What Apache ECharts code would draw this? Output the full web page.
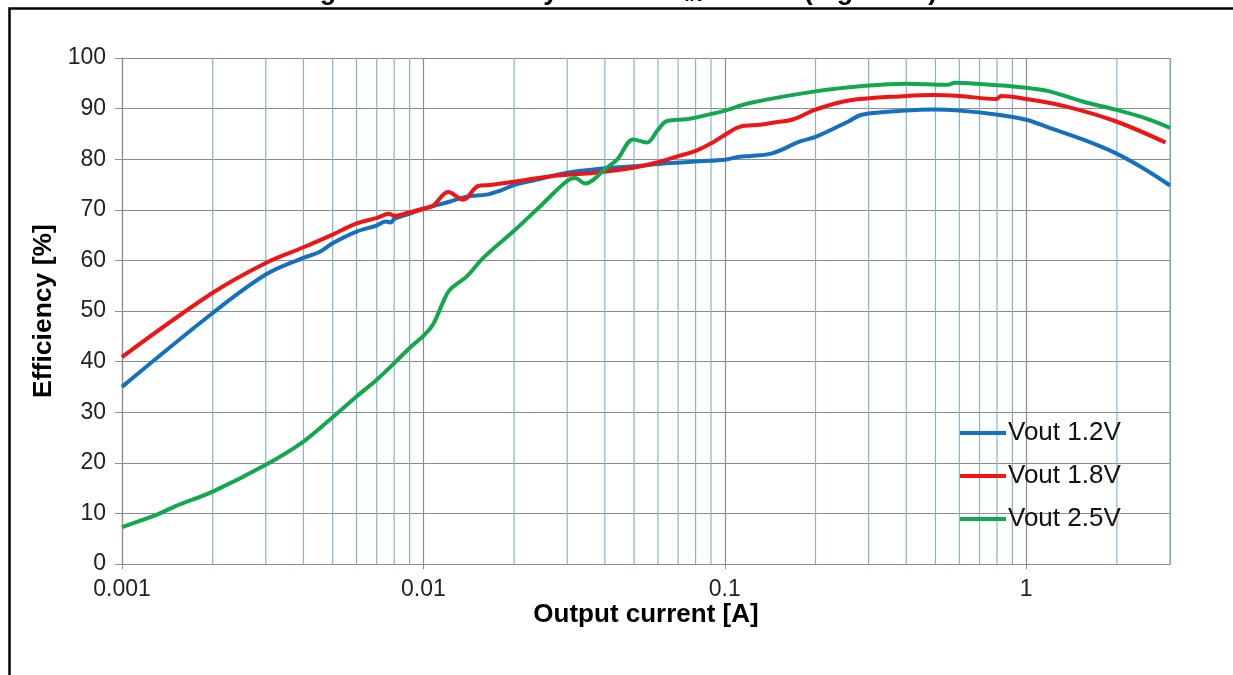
<!DOCTYPE html>
<html>
<head>
<meta charset="utf-8">
<script src="https://cdn.jsdelivr.net/npm/echarts@6/dist/echarts.min.js"></script>
<style>
html,body{margin:0;padding:0;background:#fff;}
#chart{width:1233px;height:675px;}
</style>
</head>
<body>
<div id="chart"></div>
<script>
// ---- data ----
const seriesNames = ['Vout 1.2V', 'Vout 1.8V', 'Vout 2.5V'];
const seriesColors = ['#1570c0', '#f01414', '#12a84e'];

const current12 = [0.001, 0.002, 0.003, 0.004, 0.0045, 0.005, 0.006, 0.007, 0.0075, 0.0078, 0.008, 0.009, 0.01, 0.0122, 0.0139, 0.0162, 0.018, 0.0202, 0.0232, 0.0298, 0.0385, 0.0497, 0.0641, 0.0827, 0.1, 0.112, 0.121, 0.1444, 0.1775, 0.2, 0.258, 0.285, 0.4, 0.49, 0.6, 0.805, 1.0, 1.195, 1.54, 1.98, 2.43, 3.0];
const eff12     = [35.0, 49.6, 57.2, 60.5, 61.6, 63.4, 65.7, 66.9, 67.7, 67.5, 68.2, 69.2, 70.2, 71.6, 72.6, 73.0, 73.8, 75.0, 75.8, 77.3, 78.1, 78.6, 79.2, 79.6, 79.9, 80.5, 80.6, 81.2, 83.5, 84.4, 87.5, 88.8, 89.6, 89.8, 89.6, 88.8, 87.8, 86.2, 83.9, 81.2, 78.3, 74.8];

const current18 = [0.001, 0.002, 0.003, 0.004, 0.005, 0.006, 0.007, 0.0077, 0.008, 0.009, 0.01, 0.01077, 0.01208, 0.01355, 0.0152, 0.0166, 0.0202, 0.0262, 0.0385, 0.0497, 0.06, 0.07, 0.0798, 0.0905, 0.1, 0.112, 0.131, 0.1444, 0.169, 0.2, 0.258, 0.4, 0.49, 0.6, 0.795, 0.827, 1.0, 1.36, 1.98, 2.9];
const eff18     = [40.9, 53.6, 59.5, 62.6, 65.1, 67.3, 68.4, 69.2, 68.8, 69.5, 70.2, 70.8, 73.5, 72.0, 74.7, 74.9, 75.6, 76.6, 77.4, 78.3, 79.4, 80.6, 81.6, 83.2, 84.8, 86.4, 86.8, 87.2, 87.9, 89.8, 91.6, 92.5, 92.7, 92.5, 91.9, 92.5, 91.9, 90.4, 87.5, 83.3];

const current25 = [0.001, 0.0013, 0.0015, 0.002, 0.003, 0.004, 0.005, 0.006, 0.007, 0.008, 0.009, 0.01, 0.01077, 0.01163, 0.01224, 0.0139, 0.0158, 0.0202, 0.025, 0.0298, 0.0318, 0.0344, 0.0405, 0.0439, 0.0497, 0.0551, 0.06, 0.0641, 0.0747, 0.085, 0.1, 0.121, 0.2, 0.294, 0.4, 0.547, 0.58, 0.805, 1.0, 1.195, 1.54, 1.98, 2.43, 3.0];
const eff25     = [7.3, 9.7, 11.4, 14.3, 19.6, 24.2, 29.0, 33.1, 36.4, 39.7, 42.7, 45.1, 47.4, 51.8, 54.2, 56.8, 60.5, 66.1, 71.3, 75.6, 76.3, 75.2, 78.3, 79.9, 83.9, 83.3, 85.8, 87.5, 87.9, 88.6, 89.6, 91.1, 93.4, 94.5, 94.9, 94.7, 95.1, 94.6, 94.1, 93.4, 91.4, 89.8, 88.3, 86.2];

const yTicks = [0, 100, 10];               // min, max, step of the efficiency axis
const xRange = [0.001, 3];                  // output current range (A)
const minorGridCurrents = [0.002, 0.003, 0.004, 0.005, 0.006, 0.007, 0.008, 0.009,
  0.02, 0.03, 0.04, 0.05, 0.06, 0.07, 0.08, 0.09,
  0.2, 0.3, 0.4, 0.5, 0.6, 0.7, 0.8, 0.9, 2, 3];

function pairs(xs, ys) { return xs.map((x, i) => [x, ys[i]]); }

// minor vertical grid lines: one broken line series going from bottom to top at each current
const minorGridData = [];
minorGridCurrents.forEach(v => {
  minorGridData.push([v, yTicks[0]], [v, yTicks[1]], [v, null]);
});

const FONT = '"Liberation Sans", Arial, sans-serif';
const chart = echarts.init(document.getElementById('chart'), null, {renderer: 'canvas'});

const curves = [[current12, eff12], [current18, eff18], [current25, eff25]].map((d, i) => ({
  name: seriesNames[i],
  type: 'line',
  data: pairs(d[0], d[1]),
  showSymbol: false,
  smooth: 0.35,
  z: 5,
  lineStyle: {width: 4, color: seriesColors[i]},
  itemStyle: {color: seriesColors[i]},
  emphasis: {disabled: true}
}));

const option = {
  animation: false,
  backgroundColor: '#ffffff',
  title: {
    text: '{a|Figure 18. Efficiency vs load V}{s|IN}{a| = 3.6 V (log scale)}',
    left: 'center',
    top: -22,
    padding: 0,
    textStyle: {
      rich: {
        a: {fontSize: 27, fontWeight: 'bold', fontFamily: FONT, color: '#000'},
        s: {fontSize: 18, fontWeight: 'bold', fontFamily: FONT, color: '#000', verticalAlign: 'bottom', lineHeight: 20}
      }
    }
  },
  graphic: [{
    type: 'rect',
    left: 7, top: 6,
    shape: {width: 1240, height: 700},
    style: {fill: 'none', stroke: '#000', lineWidth: 2.5},
    silent: true, z: 100
  }],
  legend: {
    data: seriesNames,
    orient: 'vertical',
    left: 960,
    top: 420,
    icon: 'rect',
    itemWidth: 46,
    itemHeight: 4,
    itemGap: 17,
    padding: 0,
    textStyle: {fontSize: 26, fontFamily: FONT, color: '#111', lineHeight: 26, padding: [0, 0, 0, -3]},
    selectedMode: false
  },
  grid: {left: 122, right: 63, top: 58, bottom: 111, containLabel: false},
  xAxis: {
    type: 'log',
    logBase: 10,
    min: xRange[0],
    max: xRange[1],
    name: 'Output current [A]',
    nameLocation: 'middle',
    nameGap: 38,
    nameMoveOverlap: false,
    nameTextStyle: {fontSize: 26, fontWeight: 'bold', fontFamily: FONT, color: '#000'},
    axisLine: {show: true, lineStyle: {color: '#8c8c8c', width: 1.2}},
    axisTick: {show: true, length: 5, lineStyle: {color: '#8c8c8c'}},
    axisLabel: {fontSize: 23, fontFamily: FONT, color: '#222', margin: 14, showMaxLabel: false},
    splitLine: {show: true, lineStyle: {color: '#8c8c8c', width: 1.2}}
  },
  yAxis: {
    type: 'value',
    min: yTicks[0],
    max: yTicks[1],
    interval: yTicks[2],
    name: 'Efficiency [%]',
    nameLocation: 'middle',
    nameGap: 64,
    nameRotate: 90,
    nameTextStyle: {fontSize: 26.5, fontWeight: 'bold', fontFamily: FONT, color: '#000'},
    axisLine: {show: true, lineStyle: {color: '#8c8c8c', width: 1.2}},
    axisTick: {show: true, length: 7, inside: false, lineStyle: {color: '#8c8c8c'}},
    axisLabel: {fontSize: 23, fontFamily: FONT, color: '#222', margin: 16},
    splitLine: {show: true, lineStyle: {color: '#8c8c8c', width: 1.2}}
  },
  series: [{
    type: 'line',
    data: minorGridData,
    silent: true,
    showSymbol: false,
    connectNulls: false,
    z: 1,
    lineStyle: {color: '#86b3cc', width: 1.2},
    itemStyle: {color: '#86b3cc'},
    emphasis: {disabled: true},
    tooltip: {show: false}
  }].concat(curves)
};
chart.setOption(option);
</script>
</body>
</html>
